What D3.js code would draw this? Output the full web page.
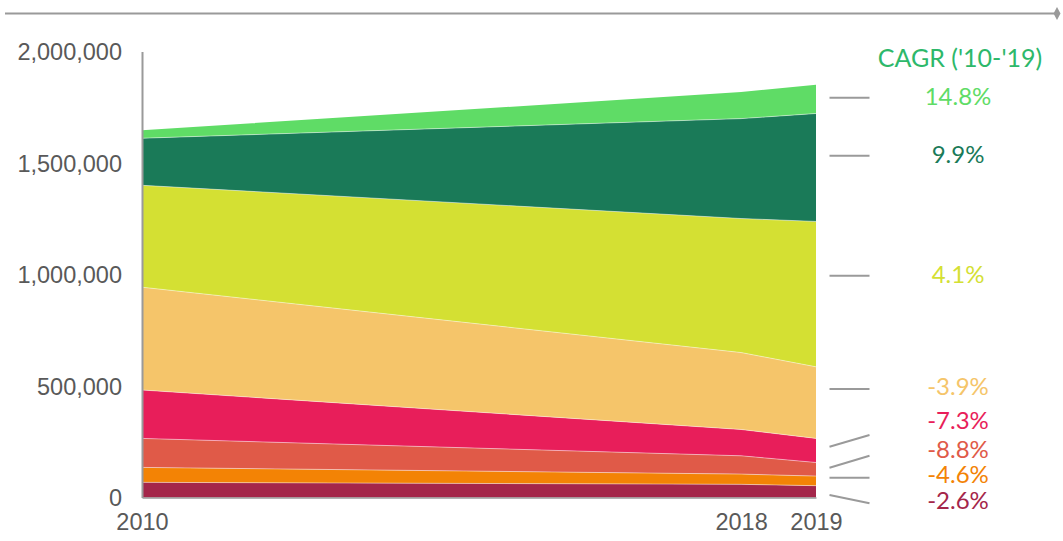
<!DOCTYPE html>
<html>
<head>
<meta charset="utf-8">
<script src="https://cdn.jsdelivr.net/npm/d3@7"></script>
<style>
  html, body { margin: 0; padding: 0; background: #fff; }
  svg { display: block; font-family: Lato, "Open Sans", sans-serif; }
</style>
</head>
<body>
<svg id="chart" width="1063" height="541"></svg>
<script>
// Years shown on the axis
const years = [2010, 2018, 2019];

// Stacked series, bottom to top (values per year)
const seriesNames = ["s1", "s2", "s3", "s4", "s5", "s6", "s7", "s8"];
const s1 = [68000, 59000, 53000];
const s2 = [67000, 46000, 43000];
const s3 = [130000, 82000, 61000];
const s4 = [217000, 118000, 108000];
const s5 = [461000, 345000, 321000];
const s6 = [457000, 601000, 652000];
const s7 = [211000, 448000, 484000];
const s8 = [36000, 119000, 129000];

// CAGR 2010-2019 per series, bottom to top
const cagrLabels = ["-2.6%", "-4.6%", "-8.8%", "-7.3%", "-3.9%", "4.1%", "9.9%", "14.8%"];

// Axis ticks
const yTicks = [0, 500000, 1000000, 1500000, 2000000];

// Colours, bottom to top
const colors = ["#a4264a", "#f38305", "#e05a48", "#e81e5a", "#f5c56a", "#d4e033", "#1a7a58", "#5fdc66"];

const seriesValues = [s1, s2, s3, s4, s5, s6, s7, s8];
const table = years.map((yr, i) => {
  const row = { year: yr };
  seriesNames.forEach((n, k) => { row[n] = seriesValues[k][i]; });
  return row;
});

const svg = d3.select("#chart");

const x = d3.scaleLinear().domain([2010, 2019]).range([142, 816]);
const y = d3.scaleLinear().domain([0, 2000000]).range([497.5, 51.5]);

const stack = d3.stack().keys(seriesNames);
const layers = stack(table);

const area = d3.area()
  .x(d => x(d.data.year))
  .y0(d => y(d[0]))
  .y1(d => y(d[1]));

const topLine = d3.line()
  .x(d => x(d.data.year))
  .y(d => y(d[1]));

svg.append("g").selectAll("path")
  .data(layers)
  .join("path")
  .attr("d", area)
  .attr("fill", (d, i) => colors[i]);

// faint separators between bands
svg.append("g").selectAll("path")
  .data(layers.slice(0, -1))
  .join("path")
  .attr("d", topLine)
  .attr("fill", "none")
  .attr("stroke", "#ffffff")
  .attr("stroke-opacity", 0.45)
  .attr("stroke-width", 1);

// Y axis
const yAxis = d3.axisLeft(y)
  .tickValues(yTicks)
  .tickSize(0)
  .tickPadding(20)
  .tickFormat(d3.format(","));

const gy = svg.append("g").attr("transform", "translate(142,0)").call(yAxis);
gy.select(".domain").attr("stroke", "#9a9a9a").attr("stroke-width", 2);
gy.selectAll("text")
  .attr("fill", "#595959")
  .attr("font-size", 23.5)
  .attr("dy", "0.36em");

// X axis
const xAxis = d3.axisBottom(x)
  .tickValues(years)
  .tickSize(0)
  .tickPadding(16)
  .tickFormat(d3.format("d"));

const gx = svg.append("g").attr("transform", "translate(0,497.5)").call(xAxis);
gx.select(".domain").attr("stroke", "#9a9a9a").attr("stroke-width", 1.5);
gx.selectAll("text")
  .attr("fill", "#595959")
  .attr("font-size", 23.5);

// Rule across the top with a diamond end
svg.append("line")
  .attr("x1", 5).attr("x2", 1056)
  .attr("y1", 13.5).attr("y2", 13.5)
  .attr("stroke", "#9a9a9a").attr("stroke-width", 2);
svg.append("path")
  .attr("d", "M1057,7 L1060.5,13.5 L1057,20 L1053.5,13.5 Z")
  .attr("fill", "#9a9a9a");

// CAGR title
svg.append("text")
  .attr("x", 960).attr("y", 61)
  .attr("text-anchor", "middle")
  .attr("dominant-baseline", "middle")
  .attr("fill", "#2db86a")
  .attr("font-size", 25)
  .text("CAGR ('10-'19)");

// Label placement (bottom to top): label centre y, leader line left/right y
const labelY = [502.7, 476.7, 451.7, 423, 389.3, 276.7, 156.7, 99.3];
const leaderY = [[495, 503.3], [477.7, 477.7], [467.7, 455.7], [446.7, 435], [389, 389], [275.7, 275.7], [155.7, 155.7], [97.7, 97.7]];

svg.append("g").selectAll("line")
  .data(leaderY)
  .join("line")
  .attr("x1", 829.5).attr("x2", 869.5)
  .attr("y1", d => d[0]).attr("y2", d => d[1])
  .attr("stroke", "#9a9a9a").attr("stroke-width", 2);

svg.append("g").selectAll("text")
  .data(cagrLabels)
  .join("text")
  .attr("x", 958)
  .attr("y", (d, i) => labelY[i])
  .attr("text-anchor", "middle")
  .attr("dominant-baseline", "middle")
  .attr("font-size", 24)
  .attr("fill", (d, i) => colors[i])
  .text(d => d);
</script>
</body>
</html>
